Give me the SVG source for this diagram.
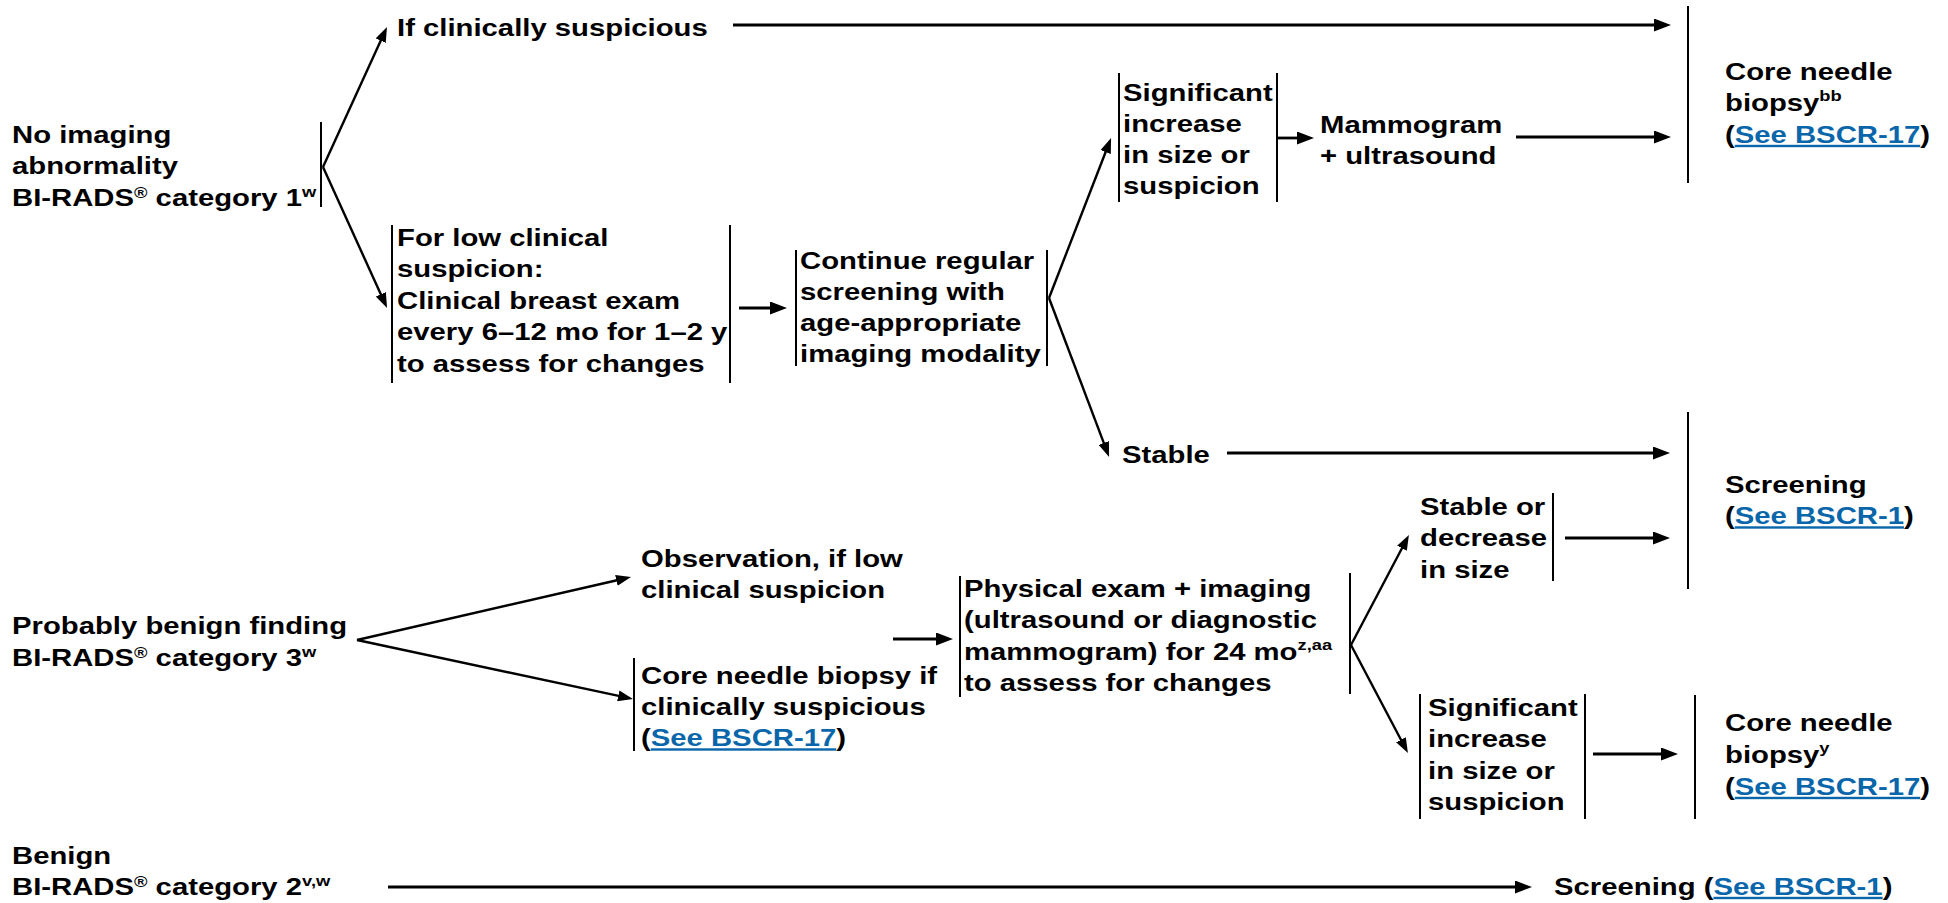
<svg xmlns="http://www.w3.org/2000/svg" width="1948" height="903" viewBox="0 0 1948 903">
<style>
.t{font-family:"Liberation Sans",Arial,Helvetica,sans-serif;font-weight:bold;font-size:24px;fill:#000}
.sup{font-size:15px}
.lk{fill:#0a66aa;text-decoration:underline}
.bar{stroke:#000;stroke-width:2;fill:none}
.ar{stroke:#000;stroke-width:2.8;fill:none;marker-end:url(#ah)}
.dg{stroke:#000;stroke-width:2.4;fill:none;marker-end:url(#as)}
.ln{stroke:#000;stroke-width:2.4;fill:none}
</style>
<defs>
<marker id="ah" markerUnits="userSpaceOnUse" markerWidth="17" markerHeight="13" refX="5" refY="6.5" orient="auto"><path d="M0,0 L17,6.5 L0,13 z" fill="#000"/></marker>
<marker id="as" markerUnits="userSpaceOnUse" markerWidth="15" markerHeight="11" refX="4" refY="5.5" orient="auto"><path d="M0,0 L15,5.5 L0,11 z" fill="#000"/></marker>
</defs>
<rect width="1948" height="903" fill="#fff"/>

<g id="connectors">
<line class="dg" x1="323" y1="167" x2="382.4" y2="37"/>
<line class="dg" x1="323" y1="167" x2="382.5" y2="298"/>
<line class="ar" x1="733" y1="25" x2="1659" y2="25"/>
<line class="ar" x1="739" y1="308" x2="775" y2="308"/>
<line class="dg" x1="1049" y1="298" x2="1107.1" y2="148.3"/>
<line class="dg" x1="1049" y1="298" x2="1105.2" y2="446.7"/>
<line class="ar" x1="1278" y1="138" x2="1302" y2="138"/>
<line class="ar" x1="1516" y1="137" x2="1659" y2="137"/>
<line class="ar" x1="1227" y1="453" x2="1658" y2="453"/>
<line class="ar" x1="1565" y1="538" x2="1658" y2="538"/>
<line class="dg" x1="357" y1="640" x2="620.3" y2="579.5"/>
<line class="dg" x1="357" y1="640" x2="622.2" y2="696.7"/>
<line class="ar" x1="893" y1="639" x2="941" y2="639"/>
<line class="dg" x1="1351" y1="645" x2="1403.8" y2="544.7"/>
<line class="dg" x1="1351" y1="645" x2="1402.8" y2="743.3"/>
<line class="ar" x1="1593" y1="754" x2="1666" y2="754"/>
<line class="ar" x1="388" y1="887" x2="1520" y2="887"/>
</g>

<g id="n-bi1">
<line class="bar" x1="321" y1="122" x2="321" y2="207"/>
<text class="t" transform="matrix(1.22 0 0 1 12 143)"><tspan x="0" y="0">No imaging</tspan><tspan x="0" y="31.5">abnormality</tspan><tspan x="0" y="63">BI-RADS<tspan class="sup" dy="-8">®</tspan><tspan dy="8"> category 1</tspan><tspan class="sup" dy="-9">w</tspan></tspan></text>
</g>

<g id="n-ifsusp">
<text class="t" transform="matrix(1.22 0 0 1 397 36)">If clinically suspicious</text>
</g>

<g id="n-lowsusp">
<line class="bar" x1="392" y1="225" x2="392" y2="383"/>
<line class="bar" x1="730" y1="225" x2="730" y2="383"/>
<text class="t" transform="matrix(1.22 0 0 1 397 246)"><tspan x="0" y="0">For low clinical</tspan><tspan x="0" y="31.5">suspicion:</tspan><tspan x="0" y="63">Clinical breast exam</tspan><tspan x="0" y="94.5">every 6–12 mo for 1–2 y</tspan><tspan x="0" y="126">to assess for changes</tspan></text>
</g>

<g id="n-continue">
<line class="bar" x1="796" y1="250" x2="796" y2="366"/>
<line class="bar" x1="1047" y1="250" x2="1047" y2="366"/>
<text class="t" transform="matrix(1.22 0 0 1 800 269)"><tspan x="0" y="0">Continue regular</tspan><tspan x="0" y="31">screening with</tspan><tspan x="0" y="62">age-appropriate</tspan><tspan x="0" y="93">imaging modality</tspan></text>
</g>

<g id="n-sig1">
<line class="bar" x1="1119" y1="73" x2="1119" y2="202"/>
<line class="bar" x1="1277" y1="73" x2="1277" y2="202"/>
<text class="t" transform="matrix(1.22 0 0 1 1123 101)"><tspan x="0" y="0">Significant</tspan><tspan x="0" y="31">increase</tspan><tspan x="0" y="62">in size or</tspan><tspan x="0" y="93">suspicion</tspan></text>
</g>

<g id="n-mammo">
<text class="t" transform="matrix(1.22 0 0 1 1320 133)"><tspan x="0" y="0">Mammogram</tspan><tspan x="0" y="31">+ ultrasound</tspan></text>
</g>

<g id="n-core1">
<line class="bar" x1="1688" y1="6" x2="1688" y2="183"/>
<text class="t" transform="matrix(1.22 0 0 1 1725 80)"><tspan x="0" y="0">Core needle</tspan><tspan x="0" y="31.5">biopsy<tspan class="sup" dy="-10">bb</tspan></tspan><tspan x="0" y="63">(<tspan class="lk">See BSCR-17</tspan>)</tspan></text>
</g>

<g id="n-stable">
<text class="t" transform="matrix(1.22 0 0 1 1122 463)">Stable</text>
</g>

<g id="n-screen1">
<line class="bar" x1="1688" y1="412" x2="1688" y2="589"/>
<text class="t" transform="matrix(1.22 0 0 1 1725 493)"><tspan x="0" y="0">Screening</tspan><tspan x="0" y="31.5">(<tspan class="lk">See BSCR-1</tspan>)</tspan></text>
</g>

<g id="n-stableor">
<line class="bar" x1="1553" y1="493" x2="1553" y2="581"/>
<text class="t" transform="matrix(1.22 0 0 1 1420 515)"><tspan x="0" y="0">Stable or</tspan><tspan x="0" y="31.5">decrease</tspan><tspan x="0" y="63">in size</tspan></text>
</g>

<g id="n-physical">
<line class="bar" x1="960" y1="576" x2="960" y2="697"/>
<line class="bar" x1="1350" y1="573" x2="1350" y2="694"/>
<text class="t" transform="matrix(1.22 0 0 1 964 597)"><tspan x="0" y="0">Physical exam + imaging</tspan><tspan x="0" y="31.5">(ultrasound or diagnostic</tspan><tspan x="0" y="63">mammogram) for 24 mo<tspan class="sup" dy="-10">z,aa</tspan></tspan><tspan x="0" y="94">to assess for changes</tspan></text>
</g>

<g id="n-observation">
<text class="t" transform="matrix(1.22 0 0 1 641 567)"><tspan x="0" y="0">Observation, if low</tspan><tspan x="0" y="31.5">clinical suspicion</tspan></text>
</g>

<g id="n-coreif">
<line class="bar" x1="634" y1="658" x2="634" y2="751"/>
<text class="t" transform="matrix(1.22 0 0 1 641 683.5)"><tspan x="0" y="0">Core needle biopsy if</tspan><tspan x="0" y="31.5">clinically suspicious</tspan><tspan x="0" y="63">(<tspan class="lk">See BSCR-17</tspan>)</tspan></text>
</g>

<g id="n-bi3">
<text class="t" transform="matrix(1.22 0 0 1 12 634)"><tspan x="0" y="0">Probably benign finding</tspan><tspan x="0" y="32">BI-RADS<tspan class="sup" dy="-8">®</tspan><tspan dy="8"> category 3</tspan><tspan class="sup" dy="-9">w</tspan></tspan></text>
</g>

<g id="n-sig2">
<line class="bar" x1="1420" y1="694" x2="1420" y2="819"/>
<line class="bar" x1="1585" y1="694" x2="1585" y2="819"/>
<text class="t" transform="matrix(1.22 0 0 1 1428 716)"><tspan x="0" y="0">Significant</tspan><tspan x="0" y="31.5">increase</tspan><tspan x="0" y="63">in size or</tspan><tspan x="0" y="94.5">suspicion</tspan></text>
</g>

<g id="n-core2">
<line class="bar" x1="1695" y1="695" x2="1695" y2="819"/>
<text class="t" transform="matrix(1.22 0 0 1 1725 731)"><tspan x="0" y="0">Core needle</tspan><tspan x="0" y="32">biopsy<tspan class="sup" dy="-10">y</tspan></tspan><tspan x="0" y="64">(<tspan class="lk">See BSCR-17</tspan>)</tspan></text>
</g>

<g id="n-bi2">
<text class="t" transform="matrix(1.22 0 0 1 12 864)"><tspan x="0" y="0">Benign</tspan><tspan x="0" y="31">BI-RADS<tspan class="sup" dy="-8">®</tspan><tspan dy="8"> category 2</tspan><tspan class="sup" dy="-9">v,w</tspan></tspan></text>
</g>

<g id="n-screen2">
<text class="t" transform="matrix(1.22 0 0 1 1554 895)">Screening (<tspan class="lk">See BSCR-1</tspan>)</text>
</g>
</svg>
